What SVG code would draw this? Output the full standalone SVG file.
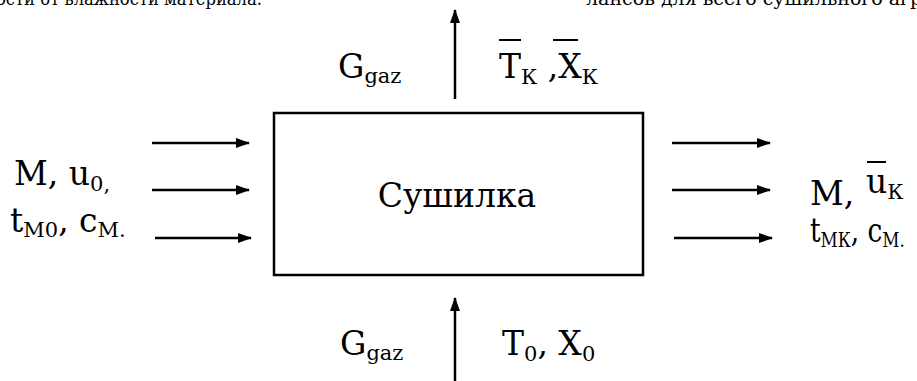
<svg xmlns="http://www.w3.org/2000/svg" width="917" height="381" viewBox="0 0 917 381">
<style>
text{font-family:'DejaVu Serif','Liberation Serif',serif;fill:#000}
.lbl{font-size:33px}
.sub{font-size:21px}
.top{font-size:19px}
.c{stroke:#000;stroke-width:2.5;fill:none}
.ol{stroke:#000;stroke-width:2}
</style>
<defs>
<marker id="ah" markerWidth="14" markerHeight="10" refX="13" refY="5" orient="auto" markerUnits="userSpaceOnUse">
<path d="M0,0 L14,5 L0,10 Z" fill="#000"/>
</marker>
</defs>
<text class="top" x="-4" y="5" textLength="266" lengthAdjust="spacingAndGlyphs">ости от влажности материала.</text>
<text class="top" x="586" y="5">лансов для всего сушильного агрегата</text>
<g id="dryer">
<rect x="274" y="113" width="369" height="162" fill="#fff" stroke="#000" stroke-width="2.5"/>
<text x="457" y="207" font-size="33" text-anchor="middle">Сушилка</text>
</g>
<g id="connectors">
<line class="c" x1="455" y1="99" x2="455" y2="10" marker-end="url(#ah)"/>
<line class="c" x1="455" y1="381" x2="455" y2="298" marker-end="url(#ah)"/>
<line class="c" x1="152" y1="143" x2="249" y2="143" marker-end="url(#ah)"/>
<line class="c" x1="152" y1="190" x2="249" y2="190" marker-end="url(#ah)"/>
<line class="c" x1="155" y1="238" x2="251" y2="238" marker-end="url(#ah)"/>
<line class="c" x1="672" y1="143" x2="770" y2="143" marker-end="url(#ah)"/>
<line class="c" x1="672" y1="190" x2="770" y2="190" marker-end="url(#ah)"/>
<line class="c" x1="674" y1="238" x2="772" y2="238" marker-end="url(#ah)"/>
</g>
<g id="label-top">
<text class="lbl" x="338" y="78">G<tspan class="sub" dy="5">gaz</tspan></text>
<text class="lbl" x="499" y="78">T<tspan class="sub" dy="6">К</tspan><tspan dy="-6"> ,X</tspan><tspan class="sub" dy="6">К</tspan></text>
<line class="ol" x1="499" y1="40" x2="521" y2="40"/>
<line class="ol" x1="553" y1="40" x2="578" y2="40"/>
</g>
<g id="label-left">
<text class="lbl" x="14" y="185">M, u<tspan class="sub" dy="6">0,</tspan></text>
<text class="lbl" x="10" y="232">t<tspan class="sub" dy="5">М0</tspan><tspan dy="-5">, c</tspan><tspan class="sub" dy="5">М.</tspan></text>
</g>
<g id="label-right">
<text class="lbl" x="810" y="205">M,</text>
<text class="lbl" x="866" y="193">u<tspan class="sub" dy="6">К</tspan></text>
<line class="ol" x1="867" y1="162" x2="886" y2="162"/>
<text class="lbl" transform="translate(810,242) scale(0.8,1)">t<tspan class="sub" dy="5">МК</tspan><tspan dy="-5">, c</tspan><tspan class="sub" dy="5">М.</tspan></text>
</g>
<g id="label-bottom">
<text class="lbl" x="340" y="355">G<tspan class="sub" dy="5">gaz</tspan></text>
<text class="lbl" x="502" y="355">T<tspan class="sub" dy="6">0</tspan><tspan dy="-6">, X</tspan><tspan class="sub" dy="6">0</tspan></text>
</g>
</svg>
